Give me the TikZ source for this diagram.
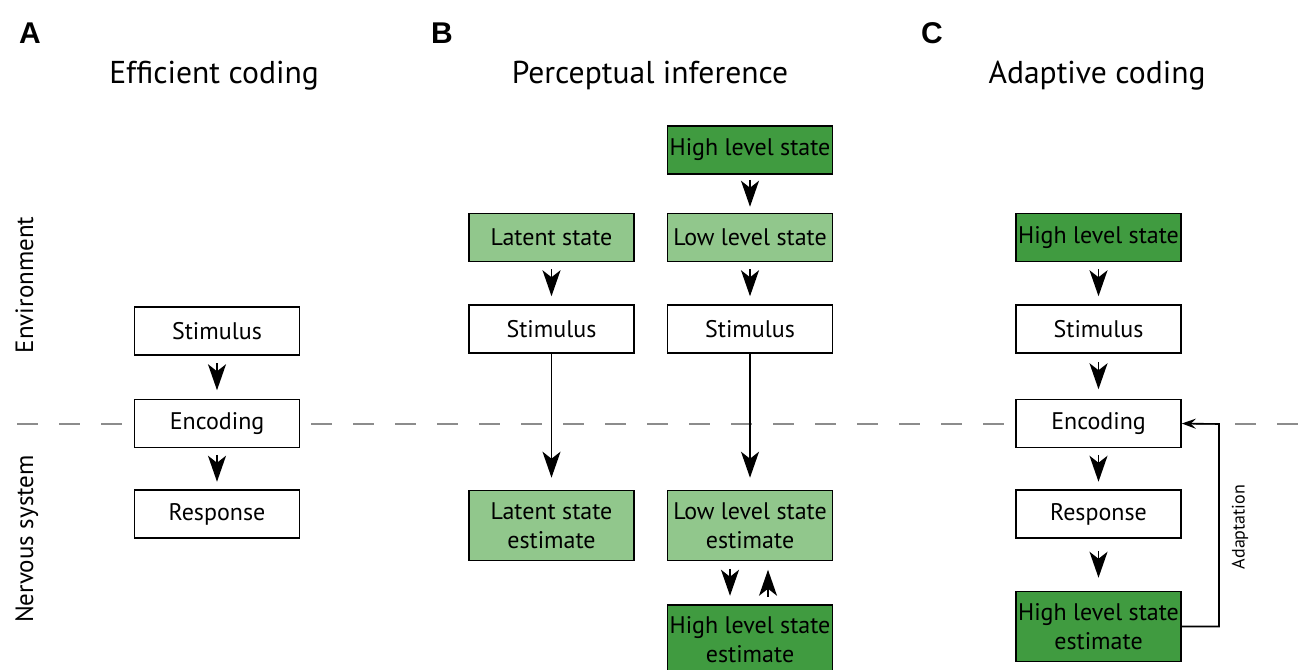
\documentclass[tikz,border=0pt]{standalone}
\usepackage{fontspec}
\setmainfont{PT Sans}
\newfontfamily\headfont{Liberation Sans}
\usetikzlibrary{arrows.meta}
\usetikzlibrary{calc}
\definecolor{darkgreen}{RGB}{64,155,64}
\definecolor{lightgreen}{RGB}{145,199,140}
\definecolor{sepgray}{RGB}{140,140,140}
\tikzset{
  blk/.style={draw=black, line width=0.8pt, fill=white, minimum width=82.5pt,
    minimum height=24pt, inner sep=0pt, align=center,
    font=\fontsize{12}{14.5}\selectfont},
  tallblk/.style={blk, minimum height=35pt},
  lowst/.style={fill=lightgreen},
  highst/.style={fill=darkgreen},
  flow/.style={-{Stealth[length=13pt,width=9pt,inset=3.5pt]}, line width=0.8pt},
  adapt/.style={-{Stealth[length=7pt,width=5pt,inset=2.5pt]}, line width=0.8pt},
  sep/.style={sepgray, line width=0.65pt, dash pattern=on 10.5pt off 10.5pt},
  ttl/.style={anchor=base, font=\fontsize{15.8}{19}\selectfont},
  panel/.style={anchor=base west, font=\headfont\bfseries\fontsize{15}{17}\selectfont},
  side/.style={rotate=90, anchor=base, font=\fontsize{12.5}{14.5}\selectfont}
}
\begin{document}
\begin{tikzpicture}[x=0.5pt, y=-0.5pt]
\useasboundingbox (0,0) rectangle (1299,669);
\draw[sep] (17,424) -- (1299,424);

\node[panel] (lblA) at (12,43) {A};
\node[panel] (lblB) at (424,43) {B};
\node[panel] (lblC) at (914,43) {C};
\node[ttl] (ttlA) at (214,83) {Efficient coding};
\node[ttl] (ttlB) at (650,83) {Perceptual inference};
\node[ttl] (ttlC) at (1097,83) {Adaptive coding};
\node[side] (env) at (33,285) {Environment};
\node[side] (nerv) at (33,539) {Nervous system};

% A
\node[blk] (aStim) at (217,331) {Stimulus};
\node[blk] (aEnc) at (217,423.5) {Encoding};
\node[blk] (aResp) at (217,514) {Response};

% B
\node[blk, lowst] (bLat) at (551.5,237.5) {Latent state};
\node[blk] (bStimL) at (551.5,329) {Stimulus};
\node[tallblk, lowst] (bLatEst) at (551.5,525.5) {Latent state\\estimate};
\node[blk, highst] (bHigh) at (750,150) {High level state};
\node[blk, lowst] (bLow) at (750,237.5) {Low level state};
\node[blk] (bStimR) at (750,329) {Stimulus};
\node[tallblk, lowst] (bLowEst) at (750,525.5) {Low level state\\estimate};
\node[tallblk, highst] (bHighEst) at (750,640) {High level state\\estimate};

% C
\node[blk, highst] (cHigh) at (1098.5,237.5) {High level state};
\node[blk] (cStim) at (1098.5,329) {Stimulus};
\node[blk] (cEnc) at (1098.5,423.5) {Encoding};
\node[blk] (cResp) at (1098.5,514) {Response};
\node[tallblk, highst] (cEst) at (1098.5,626.5) {High level state\\estimate};

\foreach \a/\b in {aStim/aEnc, aEnc/aResp, bLat/bStimL, bHigh/bLow, bLow/bStimR,
  cHigh/cStim, cStim/cEnc, cEnc/cResp, cResp/cEst} {
  \draw[flow] ($(\a.south)!.5!(\b.north)+(0,7pt)$) -- ($(\a.south)!.5!(\b.north)-(0,6.5pt)$);
}
\draw[flow] ($(bLowEst.south)!.5!(bHighEst.north)+(-20,-14)$) -- ++(0,27);
\draw[flow] ($(bLowEst.south)!.5!(bHighEst.north)+(18,14)$) -- ++(0,-27);
\draw[flow, shorten >=6pt] (bStimL) -- (bLatEst);
\draw[flow, shorten >=6pt] (bStimR) -- (bLowEst);

\coordinate (cTurn) at (1219,424);
\draw[adapt] (cEst.east) -- (cEst.east -| cTurn) -- (cTurn) -- (cEnc.east);
\node[rotate=90, font=\fontsize{9}{11}\selectfont] (adaptLbl) at (1240,527) {Adaptation};
\end{tikzpicture}
\end{document}
